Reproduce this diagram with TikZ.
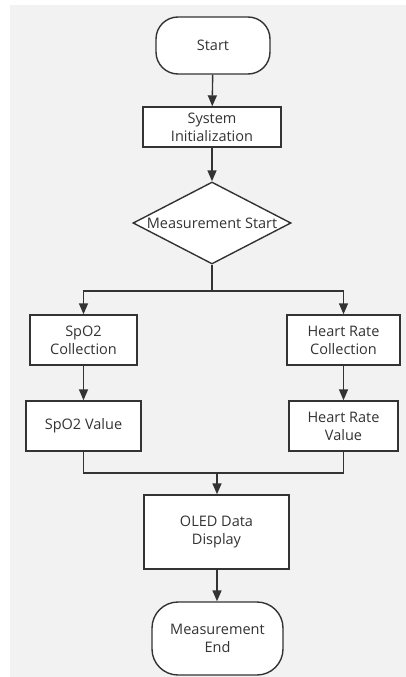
\documentclass[tikz,border=0pt]{standalone}
\usepackage{fontspec}
\setmainfont{Open Sans}
\usetikzlibrary{arrows.meta,shapes.geometric}
\definecolor{bg}{HTML}{F2F2F2}
\definecolor{ln}{HTML}{333333}
\tikzset{
  lbl/.style={font=\fontsize{14.5}{18}\selectfont, text=ln, align=center},
  base/.style={draw=ln, line width=1.4pt, fill=white, lbl, inner sep=0pt},
  proc/.style={base, rectangle},
  term/.style={base, rectangle, rounded corners=22pt},
  decis/.style={base, diamond, aspect=1.93},
  arr/.style={draw=ln, line width=1.4pt, -{Triangle[width=9pt,length=11pt]}},
  ln/.style={draw=ln, line width=1.4pt}
}
\begin{document}
\begin{tikzpicture}[x=1pt,y=-1pt]
\useasboundingbox (0,0) rectangle (406,677);
\fill[bg] (10,5) rectangle (406,677);
\node[term, minimum width=114pt, minimum height=57pt] (start) at (213,45.5) {Start};
\node[proc, minimum width=138pt, minimum height=40pt] (init) at (212,127) {System\\Initialization};
\node[decis, minimum width=158pt, minimum height=82pt] (meas) at (212,223) {};
\node[lbl, inner sep=0pt] (measlbl) at (212,223) {Measurement Start};
\coordinate (split) at (212,291);
\node[proc, minimum width=107pt, minimum height=50pt] (spoc) at (83.5,340) {SpO2\\Collection};
\node[proc, minimum width=113pt, minimum height=50pt] (hrc) at (343.5,340) {Heart Rate\\Collection};
\node[proc, minimum width=115pt, minimum height=50pt] (spov) at (83.5,426) {SpO2 Value};
\node[proc, minimum width=109pt, minimum height=50pt] (hrv) at (343.5,426) {Heart Rate\\Value};
\coordinate (merge) at (217,473);
\node[proc, minimum width=145pt, minimum height=74pt] (oled) at (216.5,532) {OLED Data\\Display};
\node[term, minimum width=131pt, minimum height=73pt, rounded corners=26pt] (end) at (217.5,638.5) {Measurement\\End};
\draw[arr] (start) -- (init);
\draw[arr] (init) -- (meas);
\draw[ln] (meas.south) -- (split);
\draw[arr] (split) -| (spoc.north);
\draw[arr] (split) -| (hrc.north);
\draw[arr] (spoc) -- (spov);
\draw[arr] (hrc) -- (hrv);
\draw[ln] (spov.south) |- (merge);
\draw[ln] (hrv.south) |- (merge);
\draw[arr] (merge) -- (oled.north -| merge);
\draw[arr] (oled.south -| merge) -- (end.north -| merge);
\end{tikzpicture}
\end{document}
